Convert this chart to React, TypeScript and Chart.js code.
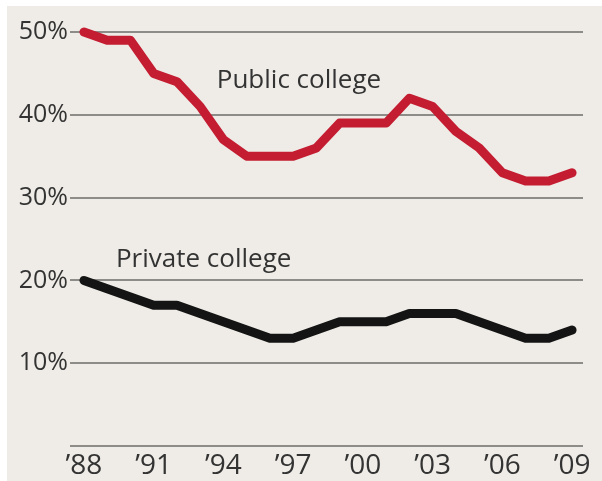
import React, { useEffect, useRef } from "react";
import { Chart, registerables } from "chart.js";

Chart.register(...registerables);

const years = [1988, 1989, 1990, 1991, 1992, 1993, 1994, 1995, 1996, 1997, 1998, 1999, 2000, 2001, 2002, 2003, 2004, 2005, 2006, 2007, 2008, 2009];
const publicCollege = [50, 49, 49, 45, 44, 41, 37, 35, 35, 35, 36, 39, 39, 39, 42, 41, 38, 36, 33, 32, 32, 33];
const privateCollege = [20, 19, 18, 17, 17, 16, 15, 14, 13, 13, 14, 15, 15, 15, 16, 16, 16, 15, 14, 13, 13, 14];
const xTickYears = [1988, 1991, 1994, 1997, 2000, 2003, 2006, 2009];
const yTickValues = [0, 10, 20, 30, 40, 50];
const seriesLabels = ["Public college", "Private college"];

const FONT = "'Open Sans', 'DejaVu Sans', sans-serif";
const TEXT = "#333333";

const bgPlugin = {
  id: "bgBox",
  beforeDraw(chart: any) {
    const ctx = chart.ctx;
    ctx.save();
    ctx.fillStyle = "#ffffff";
    ctx.fillRect(0, 0, chart.width, chart.height);
    ctx.fillStyle = "#efece7";
    ctx.fillRect(7, 6, chart.width - 7, chart.height - 6);
    ctx.restore();
  },
};

const labelPlugin = {
  id: "seriesLabels",
  afterDatasetsDraw(chart: any) {
    const ctx = chart.ctx;
    const xs = chart.scales.x;
    const ys = chart.scales.y;
    const anchors = [
      { text: seriesLabels[0], x: 1997.25, y: 43.2 },
      { text: seriesLabels[1], x: 1993.15, y: 21.6 },
    ];
    ctx.save();
    ctx.fillStyle = TEXT;
    ctx.font = `26px ${FONT}`;
    ctx.textAlign = "center";
    ctx.textBaseline = "alphabetic";
    anchors.forEach((a) => {
      ctx.fillText(a.text, xs.getPixelForValue(a.x), ys.getPixelForValue(a.y));
    });
    ctx.restore();
  },
};

export default function App() {
  const ref = useRef<HTMLCanvasElement | null>(null);

  useEffect(() => {
    if (!ref.current) return;
    const chart = new Chart(ref.current, {
      type: "line",
      data: {
        datasets: [
          {
            label: seriesLabels[0],
            data: years.map((y, i) => ({ x: y, y: publicCollege[i] })),
            borderColor: "#c41c31",
            borderWidth: 9,
            pointRadius: 0,
            tension: 0,
            borderJoinStyle: "round",
            borderCapStyle: "round",
            clip: false as any,
          },
          {
            label: seriesLabels[1],
            data: years.map((y, i) => ({ x: y, y: privateCollege[i] })),
            borderColor: "#141414",
            borderWidth: 9,
            pointRadius: 0,
            tension: 0,
            borderJoinStyle: "round",
            borderCapStyle: "round",
            clip: false as any,
          },
        ],
      },
      options: {
        animation: false,
        responsive: false,
        maintainAspectRatio: false,
        devicePixelRatio: 1,
        layout: { padding: { left: 0, top: 32, right: 19, bottom: 0 } },
        plugins: {
          legend: { display: false },
          tooltip: { enabled: false },
        },
        scales: {
          x: {
            type: "linear",
            min: 1987.4,
            max: 2009.47,
            afterBuildTicks(scale: any) {
              scale.ticks = xTickYears.map((v) => ({ value: v }));
            },
            afterFit(scale: any) {
              scale.height = 35;
            },
            grid: { display: false, drawTicks: false },
            border: { display: false },
            ticks: {
              padding: 3,
              color: TEXT,
              font: { family: FONT, size: 28 },
              maxRotation: 0,
              autoSkip: false,
              callback: (v: any) => "\u2019" + String(v).slice(2),
            },
          },
          y: {
            min: 0,
            max: 50,
            afterBuildTicks(scale: any) {
              scale.ticks = yTickValues.map((v) => ({ value: v }));
            },
            afterFit(scale: any) {
              scale.width = 70;
            },
            grid: { color: "#8e8c88", lineWidth: 2, drawTicks: false },
            border: { display: false },
            ticks: {
              padding: 2,
              color: TEXT,
              font: { family: FONT, size: 25 },
              callback: (v: any) => (v === 0 ? "" : v + "%"),
            },
          },
        },
      },
      plugins: [bgPlugin, labelPlugin],
    });
    return () => chart.destroy();
  }, []);

  return (
    <div style={{ position: "absolute", left: 0, top: 0, width: 602, height: 481 }}>
      <canvas ref={ref} width={602} height={481} style={{ width: 602, height: 481, display: "block" }} />
    </div>
  );
}
